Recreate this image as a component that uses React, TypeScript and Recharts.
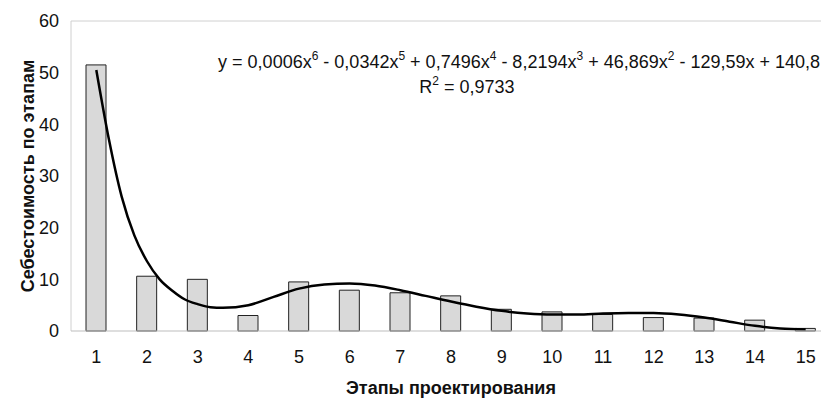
import { ComposedChart, Bar, Line, XAxis, YAxis, Customized } from "recharts";

// stage numbers and cost per stage (bars)
const stages = [1, 2, 3, 4, 5, 6, 7, 8, 9, 10, 11, 12, 13, 14, 15];
const costs = [51.5, 10.6, 10.0, 3.0, 9.5, 7.9, 7.4, 6.8, 4.2, 3.7, 3.2, 2.6, 2.5, 2.1, 0.5];

// polynomial trend line
const trendX = [1, 1.25, 1.5, 1.75, 2, 2.25, 2.5, 2.75, 3, 3.25, 3.5, 4, 4.5, 5, 5.5, 6, 6.5, 7, 7.5, 8, 8.5, 9, 9.5, 10, 10.5, 11, 11.5, 12, 12.5, 13, 13.5, 14, 14.5, 15];
const trendY = [50.5, 37, 26, 18.5, 13.5, 10, 7.8, 6.1, 5.2, 4.6, 4.5, 5.0, 6.6, 8.2, 9, 9.2, 8.8, 7.9, 6.8, 5.7, 4.7, 3.9, 3.4, 3.2, 3.2, 3.4, 3.5, 3.5, 3.2, 2.6, 1.8, 1.0, 0.5, 0.3];

const yTicks = [0, 10, 20, 30, 40, 50, 60];

const FONT = "Arial, 'Liberation Sans', sans-serif";

const barData = stages.map((s, i) => ({ stage: s, cost: costs[i] }));
const trendData = trendX.map((x, i) => ({ x, trend: trendY[i] }));

function Equation() {
  return (
    <g fontFamily={FONT} fill="#111" fontSize={18}>
      <text x={820} y={68} textAnchor="end">
        y = 0,0006x<tspan dy={-8} fontSize={12}>6</tspan>
        <tspan dy={8}> - 0,0342x</tspan>
        <tspan dy={-8} fontSize={12}>5</tspan>
        <tspan dy={8}> + 0,7496x</tspan>
        <tspan dy={-8} fontSize={12}>4</tspan>
        <tspan dy={8}> - 8,2194x</tspan>
        <tspan dy={-8} fontSize={12}>3</tspan>
        <tspan dy={8}> + 46,869x</tspan>
        <tspan dy={-8} fontSize={12}>2</tspan>
        <tspan dy={8}> - 129,59x + 140,8</tspan>
      </text>
      <text x={467} y={93} textAnchor="middle">
        R<tspan dy={-8} fontSize={12}>2</tspan>
        <tspan dy={8}> = 0,9733</tspan>
      </text>
    </g>
  );
}

export default function App() {
  return (
    <div style={{ position: "absolute", left: 0, top: 0, background: "#fff", width: 821, height: 398, overflow: "hidden" }}>
      <ComposedChart
        width={840}
        height={398}
        data={barData}
        margin={{ top: 21, right: 9, left: 0, bottom: 0 }}
      >
        {/* plot frame, light grey */}
        <Customized
          component={() => (
            <g>
              <line x1={71} y1={21} x2={831} y2={21} stroke="#d0d0d0" />
              <line x1={71} y1={21} x2={71} y2={331} stroke="#d0d0d0" />
            </g>
          )}
        />
        <XAxis
          dataKey="stage"
          height={67}
          axisLine={{ stroke: "#bdbdbd" }}
          tickLine={false}
          tickSize={10}
          tickMargin={9}
          interval={0}
          tick={{ fill: "#111", fontSize: 18, fontFamily: FONT }}
          label={{
            value: "Этапы проектирования",
            position: "insideBottom",
            offset: 4,
            fill: "#111",
            fontSize: 18,
            fontWeight: "bold",
            fontFamily: FONT,
          }}
        />
        {/* hidden numeric axis so the trend can pass between stages */}
        <XAxis
          xAxisId="trend"
          type="number"
          dataKey="x"
          domain={[0.5, 15.5]}
          hide
        />
        <YAxis
          type="number"
          domain={[0, 60]}
          ticks={yTicks}
          width={71}
          axisLine={false}
          tickLine={false}
          tickSize={10}
          tickMargin={2}
          tick={{ fill: "#111", fontSize: 18, fontFamily: FONT }}
          label={{
            value: "Себестоимость по этапам",
            angle: -90,
            position: "insideLeft",
            offset: 28,
            fill: "#111",
            fontSize: 18,
            fontWeight: "bold",
            fontFamily: FONT,
            style: { textAnchor: "middle" },
          }}
        />
        <Bar
          dataKey="cost"
          barSize={20}
          fill="#d9d9d9"
          stroke="#222"
          strokeWidth={1}
          isAnimationActive={false}
        />
        <Line
          xAxisId="trend"
          data={trendData}
          dataKey="trend"
          type="monotone"
          stroke="#000"
          strokeWidth={2.5}
          dot={false}
          isAnimationActive={false}
        />
        <Customized component={Equation} />
      </ComposedChart>
    </div>
  );
}
